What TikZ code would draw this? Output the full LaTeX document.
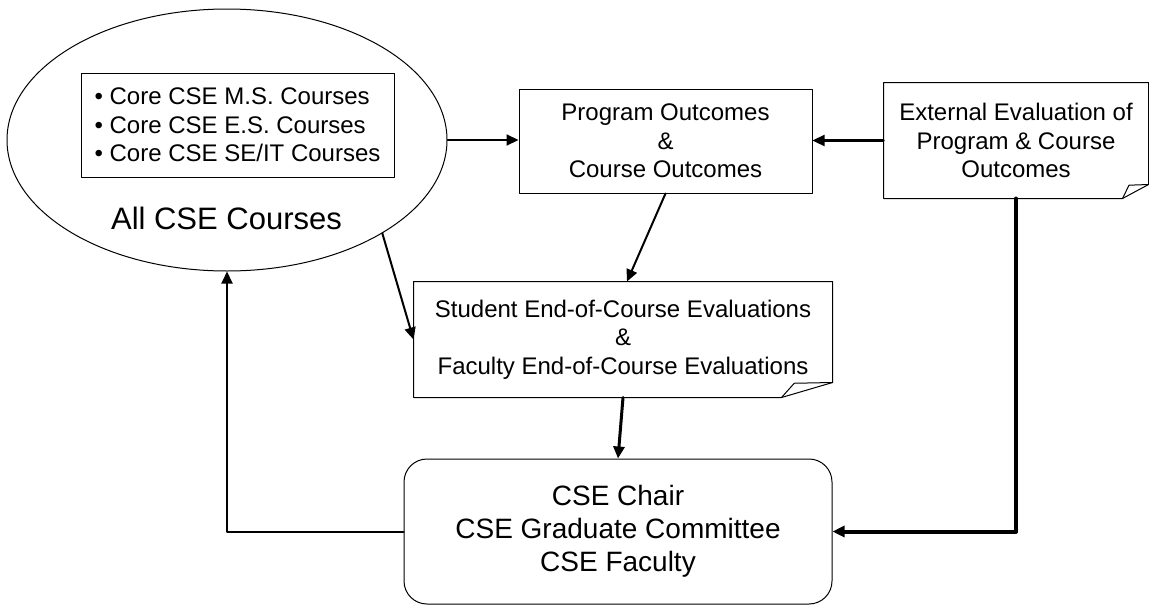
\documentclass[tikz,border=0pt]{standalone}
\usepackage{fontspec}
\setmainfont{Liberation Sans}
\usetikzlibrary{arrows.meta}
\usetikzlibrary{positioning}
\usetikzlibrary{shapes.geometric}

% outline of a note with a curled corner: node, fold width, fold height
\newcommand{\docoutline}[3]{%
  \draw [line width=0.5pt] (#1.north west) -- (#1.north east) -- ([yshift=#3]#1.south east)
    -- ([xshift=-#2]#1.south east) -- (#1.south west) -- cycle;
  \draw [line width=0.5pt] ([xshift=-#2]#1.south east) -- ([xshift=-0.75*#2,yshift=0.95*#3]#1.south east)
    -- ([yshift=#3]#1.south east);
}

\begin{document}
\begin{tikzpicture}[line cap=round,line join=round,>={Triangle[length=6pt,width=5.5pt]},x=0.5pt,y=-0.5pt,
  box/.style={draw,line width=0.5pt,align=center,inner sep=0pt,font=\fontsize{12}{14.25}\selectfont},
  docbox/.style={box,draw=none},
  flow/.style={->,line width=1pt}]
\useasboundingbox (0,0) rectangle (1149,605);
% courses
\node [ellipse,draw,line width=0.5pt,inner sep=0pt,minimum width=220pt,minimum height=131pt] (courses) at (227,140) {};
\node [box,align=left,minimum width=156.5pt,minimum height=52pt] (corelist) at (237.5,125)
  {• Core CSE M.S. Courses\\ • Core CSE E.S. Courses\\ • Core CSE SE/IT Courses};
\node [font=\fontsize{15.5}{18}\selectfont,inner sep=0pt] (alllabel) at (226.5,218) {All CSE Courses};
% outcomes and evaluations
\node [box,minimum width=146.5pt,minimum height=52pt] (outcomes) at (665.5,141)
  {Program Outcomes\\ \&\\ Course Outcomes};
\node [docbox,minimum width=132pt,minimum height=57.5pt] (extdoc) at (1016,140.5)
  {External Evaluation of\\ Program \& Course\\ Outcomes};
\docoutline{extdoc}{13pt}{7pt}
\node [docbox,minimum width=209pt,minimum height=57.5pt] (evals) at (623,339.5)
  {Student End-of-Course Evaluations\\ \&\\ Faculty End-of-Course Evaluations};
\docoutline{evals}{25.5pt}{7.5pt}
% committee
\node [box,rounded corners=11.5pt,font=\fontsize{14}{16.5}\selectfont,minimum width=214pt,minimum height=72.5pt] (chair) at (618,531.5)
  {CSE Chair\\ CSE Graduate Committee\\ CSE Faculty};
% connectors
\draw [flow] (courses.east) -- (courses.east -| outcomes.west);
\draw [flow,line width=1.2pt] (extdoc.west) -- (extdoc.west -| outcomes.east);
\draw [flow] (outcomes.south) -- ([xshift=2pt]evals.north);
\draw [flow] (courses.-31) -- (evals.west);
\draw [flow,line width=1.5pt] (evals.south) -- (chair.north);
\draw [flow,line width=2pt] (extdoc.south) |- (chair.east);
\draw [flow] (chair.west) -| (courses.south);
\end{tikzpicture}
\end{document}
